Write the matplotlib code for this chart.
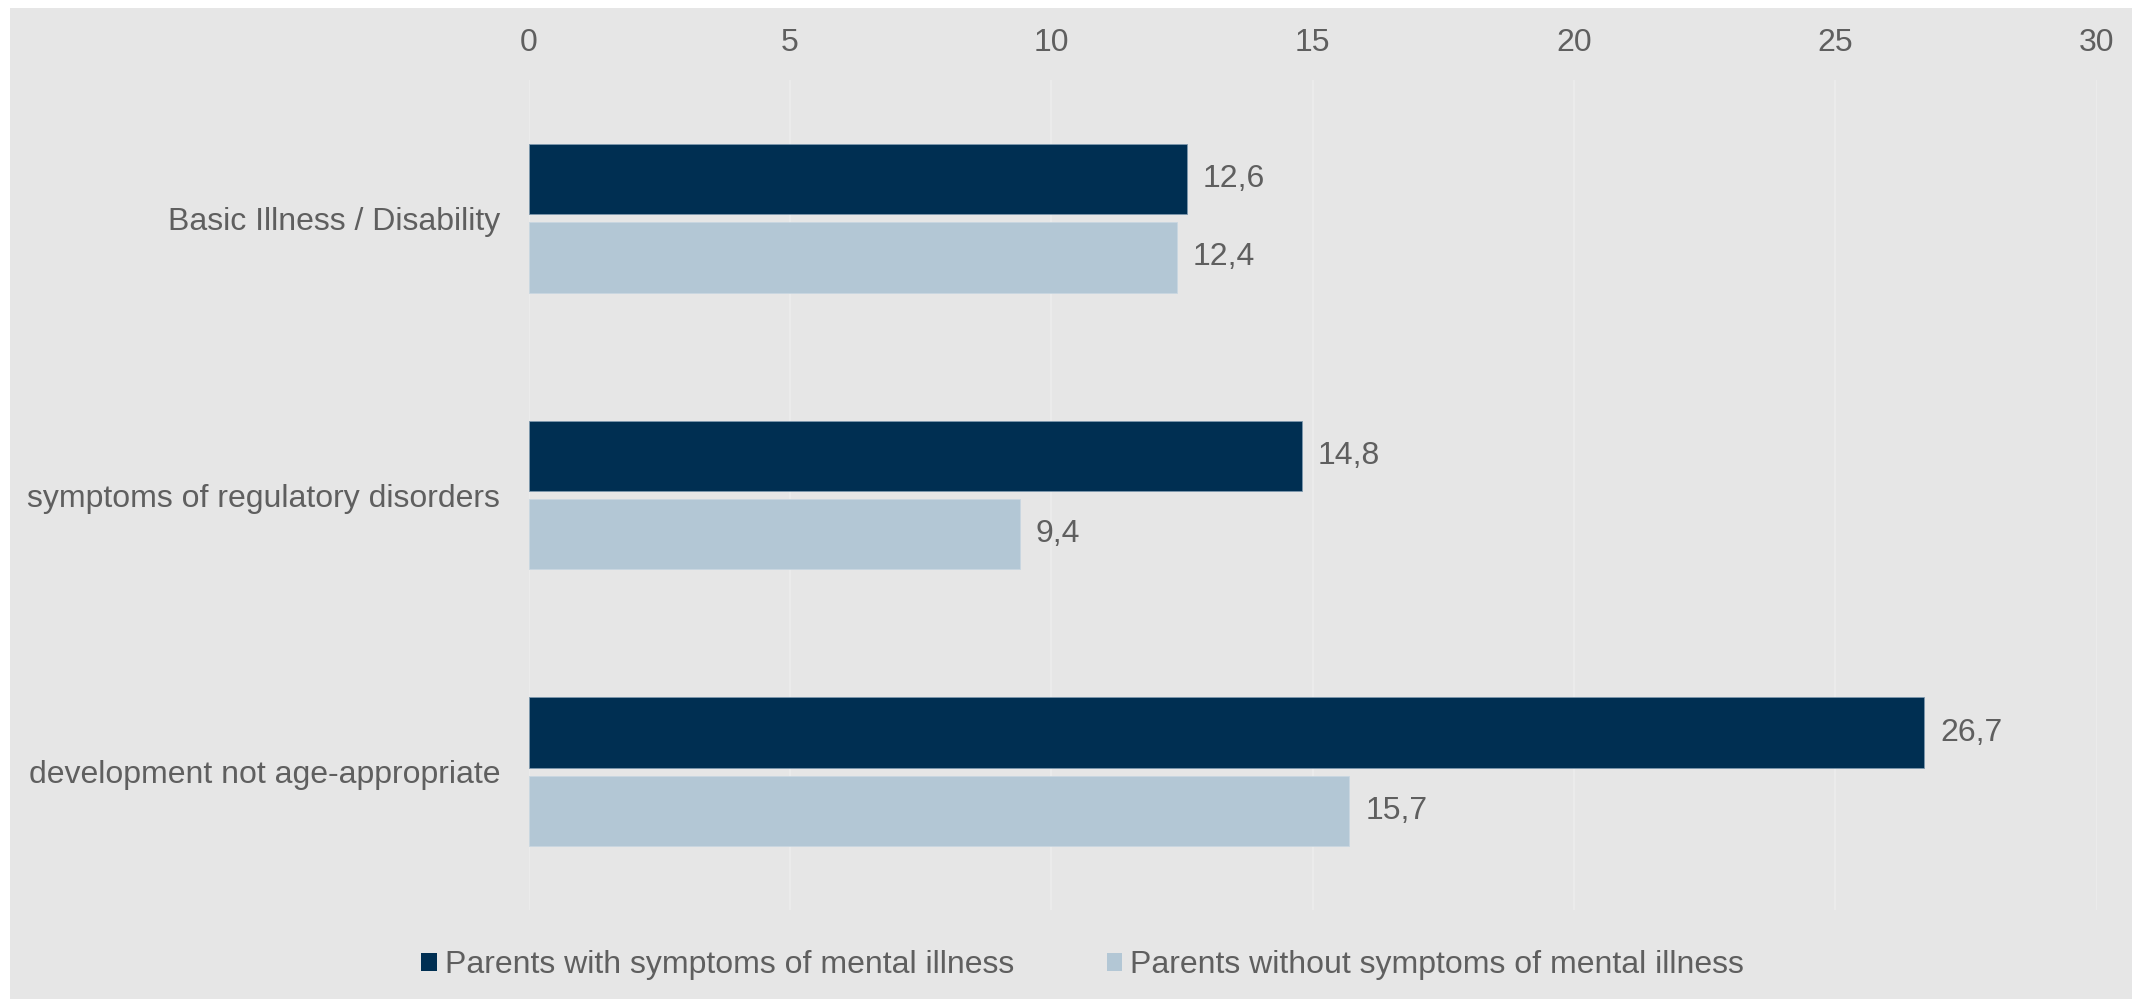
import matplotlib.pyplot as plt
from matplotlib.patches import Rectangle, Patch
import numpy as np

plt.rcParams['font.family'] = ['Liberation Sans', 'DejaVu Sans']

categories = ["Basic Illness / Disability",
              "symptoms of regulatory disorders",
              "development not age-appropriate"]
series_names = ["Parents with symptoms of mental illness",
                "Parents without symptoms of mental illness"]
with_symptoms = [12.6, 14.8, 26.7]
without_symptoms = [12.4, 9.4, 15.7]
x_ticks = [0, 5, 10, 15, 20, 25, 30]

dark = '#002F52'
light = '#B3C7D5'
bg = '#E6E6E6'
text_c = '#5F5F5F'
fs = 23

W, H = 2132, 999
fig = plt.figure(figsize=(W / 100, H / 100), dpi=100, facecolor='white')
fig.patches.append(Rectangle((10 / W, 0), 1 - 10 / W, 1 - 8 / H,
                             transform=fig.transFigure, facecolor=bg,
                             edgecolor='none', zorder=-10))

ax = fig.add_axes([528.5 / W, 1 - 910 / H, (2096.7 - 528.5) / W, 830 / H])
ax.set_facecolor(bg)
ax.set_zorder(1)

y = np.arange(len(categories))
h = 0.255
off = 0.1415
b1 = ax.barh(y - off, with_symptoms, height=h, color=dark,
             edgecolor='#7d98ad', linewidth=0.6, zorder=3)
b2 = ax.barh(y + off, without_symptoms, height=h, color=light,
             edgecolor='#c9d7e1', linewidth=0.6, zorder=3)

for bars, vals in ((b1, with_symptoms), (b2, without_symptoms)):
    for bar, v in zip(bars, vals):
        ax.annotate(f"{v:.1f}".replace('.', ','),
                    (v, bar.get_y() + bar.get_height() / 2),
                    xytext=(11.5, 0), textcoords='offset points',
                    ha='left', va='center', fontsize=fs, color=text_c)

ax.set_xlim(0, 30)
ax.set_ylim(2.5, -0.5)
ax.set_xticks(x_ticks)
ax.set_xticklabels([str(t) for t in x_ticks])
ax.xaxis.tick_top()
ax.set_yticks(y)
ax.set_yticklabels(categories)
ax.tick_params(axis='x', length=0, pad=16, labelsize=fs, labelcolor=text_c)
ax.tick_params(axis='y', length=0, pad=20.5, labelsize=fs, labelcolor=text_c)
ax.grid(axis='x', color='#EDEDED', linewidth=1.2, zorder=0)
ax.set_axisbelow(True)
for s in ax.spines.values():
    s.set_visible(False)

handles = [Patch(facecolor=dark, edgecolor='none'),
           Patch(facecolor=light, edgecolor='none')]
fig.legend(handles, series_names, loc='center', bbox_to_anchor=(1082.5 / W, 1 - 965 / H),
           ncol=2, frameon=False, fontsize=fs, labelcolor=text_c,
           handlelength=0.5, handleheight=0.5, handletextpad=0.25,
           columnspacing=2.9, borderpad=0, borderaxespad=0)

fig.savefig('out.png', dpi=100, facecolor='white')
